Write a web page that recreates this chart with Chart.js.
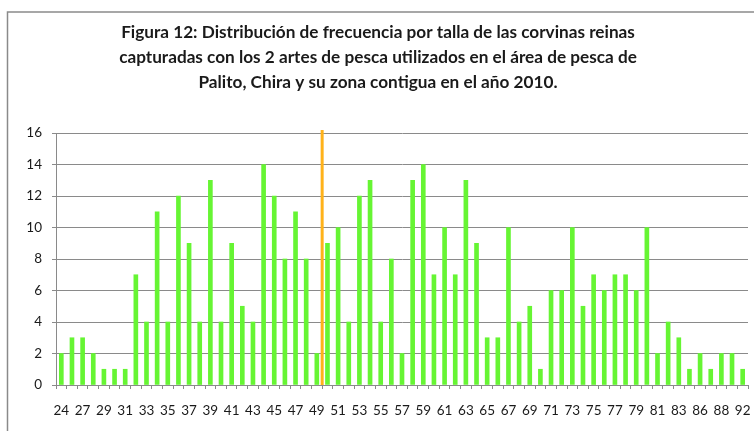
<!DOCTYPE html>
<html>
<head>
<meta charset="utf-8">
<script src="https://cdn.jsdelivr.net/npm/chart.js@4/dist/chart.umd.min.js"></script>
<style>
  html, body { margin: 0; padding: 0; background: #ffffff; }
  #wrap { width: 754px; height: 431px; position: relative; }
</style>
</head>
<body>
<div id="wrap"><canvas id="c" width="754" height="431"></canvas></div>
<script>
// Visible tick labels (every other bar is labelled)
const tickLabels = ['24','27','29','31','33','35','37','39','41','43','45','47','49','51','53','55','57','59','61','63','65','67','69','71','73','75','77','79','81','83','86','88','92'];
// Frequency per size class (65 bars)
const frequencies = [2,3,3,2,1,1,1,7,4,11,4,12,9,4,13,4,9,5,4,14,12,8,11,8,2,
                     9,10,4,12,13,4,8,2,13,14,7,10,7,13,9,3,3,10,4,5,1,6,6,10,5,
                     7,6,7,7,6,10,2,4,3,1,2,1,2,2,1];
// Orange reference line: position (category index, between "49" and the next class) and height
const markerPosition = [24.5];
const markerHeight = [16];
const yTicks = [0,2,4,6,8,10,12,14,16];
const titleLines = [
  'Figura 12: Distribución de frecuencia por talla de las corvinas reinas',
  'capturadas con los 2 artes de pesca utilizados en el área de pesca de',
  'Palito, Chira y su zona contigua en el año 2010.'
];

// Categories: labelled classes interleaved with unlabelled ones
const categories = [];
tickLabels.forEach((t, i) => {
  categories.push(t);
  if (i < tickLabels.length - 1) categories.push('');
});

const frame = {
  id: 'frame',
  beforeDraw(chart) {
    const ctx = chart.ctx;
    ctx.save();
    ctx.fillStyle = '#ffffff';
    ctx.fillRect(0, 0, chart.width, chart.height);
    ctx.strokeStyle = '#8a8a8a';
    ctx.lineWidth = 1.5;
    ctx.strokeRect(7.5, 12, chart.width + 10, chart.height + 10);
    ctx.restore();
  }
};

const marker = {
  id: 'marker',
  afterDatasetsDraw(chart) {
    const x = chart.scales.x, y = chart.scales.y, ctx = chart.ctx;
    ctx.save();
    ctx.strokeStyle = '#ffb21a';
    ctx.lineWidth = 3;
    markerPosition.forEach((p, i) => {
      const px = x.getPixelForValue(p);
      ctx.beginPath();
      ctx.moveTo(px, y.getPixelForValue(0));
      ctx.lineTo(px, y.getPixelForValue(markerHeight[i]) - 3);
      ctx.stroke();
    });
    ctx.restore();
  }
};

new Chart(document.getElementById('c'), {
  type: 'bar',
  data: {
    labels: categories,
    datasets: [{
      data: frequencies,
      backgroundColor: '#66f533',
      borderWidth: 0,
      barThickness: 4
    }]
  },
  options: {
    responsive: false,
    animation: false,
    layout: { padding: { left: 8, right: 6, top: 12, bottom: 0 } },
    plugins: {
      legend: { display: false },
      tooltip: { enabled: false },
      title: {
        display: true,
        text: titleLines,
        color: '#1a1a1a',
        font: { family: 'Lato', weight: 'bold', size: 17.2, lineHeight: 25 / 17.2 },
        padding: { top: 8, bottom: 38 }
      }
    },
    scales: {
      x: {
        afterFit(s) { s.height = 46; s.paddingLeft = 0; s.paddingRight = 0; },
        grid: { drawOnChartArea: false, drawTicks: true, tickLength: 4, color: '#8a8a8a', offset: true },
        border: { display: true, color: '#8a8a8a' },
        ticks: {
          autoSkip: false, maxRotation: 0, minRotation: 0,
          color: '#1a1a1a', padding: 14,
          font: { family: 'Lato', size: 13.5 }
        }
      },
      y: {
        min: 0, max: 16,
        afterFit(s) { s.width = 48; },
        afterBuildTicks(s) { s.ticks = yTicks.map(v => ({ value: v })); },
        grid: { color: '#8a8a8a', tickLength: 4, drawTicks: true },
        border: { display: true, color: '#8a8a8a' },
        ticks: {
          color: '#1a1a1a', padding: 10,
          font: { family: 'Lato', size: 13.5 }
        }
      }
    }
  },
  plugins: [frame, marker]
});
</script>
</body>
</html>
